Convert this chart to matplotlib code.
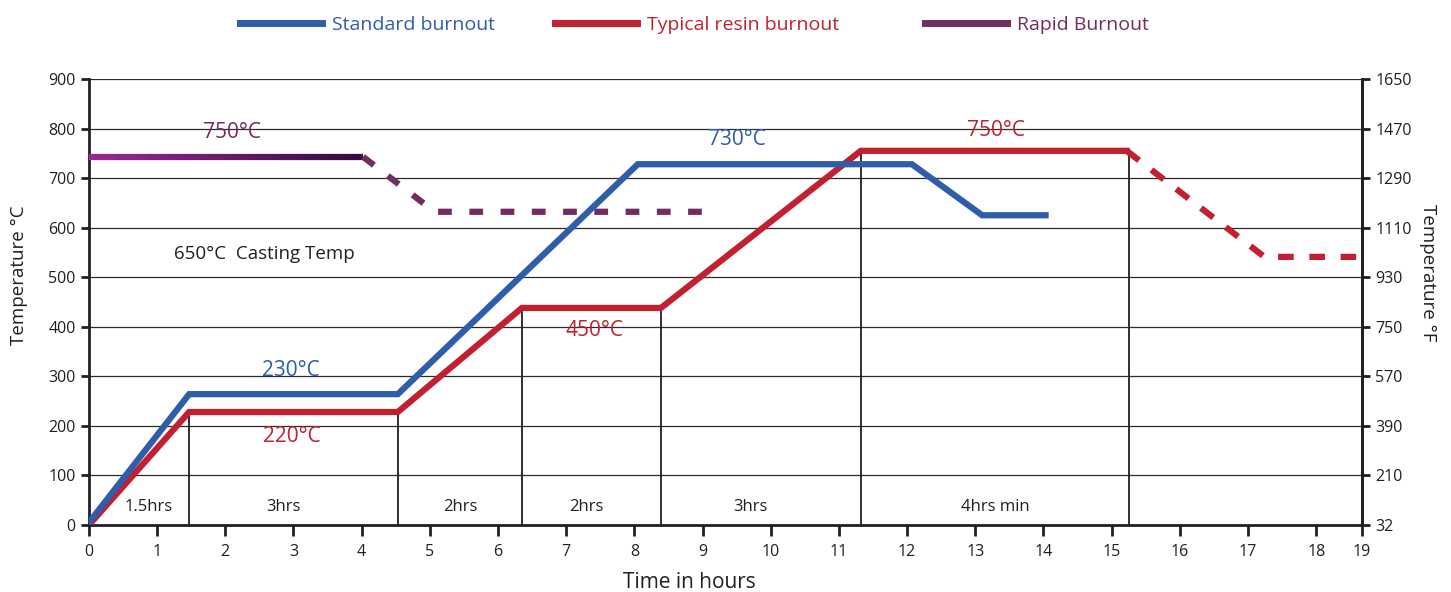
import matplotlib.pyplot as plt
import numpy as np
from matplotlib.collections import LineCollection
from matplotlib.lines import Line2D

plt.rcParams['font.family'] = ['Open Sans', 'DejaVu Sans']

# data (hours, degrees C)
std_x = [0, 1.47, 4.53, 8.05, 12.07, 13.1, 14.03]
std_y = [5, 264, 264, 728, 728, 625, 625]

resin_x = [0, 1.47, 4.53, 6.35, 8.39, 11.32, 15.22]
resin_y = [0, 228, 228, 438, 438, 755, 755]
resin_cool_x = [15.22, 17.24, 18.67]
resin_cool_y = [755, 541, 541]

rapid_x = [0, 4.02]
rapid_y = [743, 743]
rapid_cool_x = [4.02, 5.07, 9.05]
rapid_cool_y = [743, 632, 632]

step_x = [1.47, 4.53, 6.35, 8.39, 11.32, 15.26]
step_top = [228, 228, 438, 438, 755, 755]
step_labels = ["1.5hrs", "3hrs", "2hrs", "2hrs", "3hrs", "4hrs min"]
step_label_x = [0.87, 2.85, 5.44, 7.29, 9.7, 13.3]

y_ticks = [0, 100, 200, 300, 400, 500, 600, 700, 800, 900]
f_labels = ["32", "210", "390", "570", "750", "930", "1110", "1290", "1470", "1650"]
x_ticks = list(range(19)) + [18.67]
x_labels = [str(i) for i in range(20)]

blue = "#2F5DAA"
red = "#C21F30"
purple = "#722C5E"
dark = "#231F20"

fig = plt.figure(figsize=(14.51, 5.92), dpi=100)
ax = fig.add_axes([0.0613, 0.1132, 0.8773, 0.7534])
ax.set_xlim(0, 18.67)
ax.set_ylim(0, 900)

for yv in y_ticks[1:]:
    ax.axhline(yv, color="#2b2b2b", lw=0.9, zorder=1)

# segment dividers
for sx, st in zip(step_x, step_top):
    ax.plot([sx, sx], [0, st], color=dark, lw=1.3, zorder=2)
for lx, lab in zip(step_label_x, step_labels):
    ax.text(lx, 36, lab, ha="center", va="center", fontsize=12, color=dark)

# rapid burnout, solid part fades from magenta to dark purple
gx = np.linspace(rapid_x[0], rapid_x[1], 60)
gy = np.interp(gx, rapid_x, rapid_y)
pts = np.column_stack([gx, gy]).reshape(-1, 1, 2)
segs = np.concatenate([pts[:-1], pts[1:]], axis=1)
c0 = np.array([0.60, 0.16, 0.58])
c1 = np.array([0.22, 0.03, 0.27])
t = np.linspace(0, 1, len(segs))[:, None]
lc = LineCollection(segs, colors=c0 * (1 - t) + c1 * t, linewidths=4.5, zorder=3)
ax.add_collection(lc)
ax.plot(rapid_cool_x, rapid_cool_y, color=purple, lw=4.5, dashes=(2.2, 2.8), zorder=3)

ax.plot(resin_x, resin_y, color=red, lw=4.5, solid_joinstyle="miter", zorder=4)
ax.plot(resin_cool_x, resin_cool_y, color=red, lw=4.5, dashes=(2.5, 2.5), zorder=4)
ax.plot(std_x, std_y, color=blue, lw=4.5, solid_joinstyle="miter", zorder=5)

# annotations
ax.text(2.1, 791, "750°C", color=purple, fontsize=15, ha="center", va="center")
ax.text(1.25, 547, "650°C  Casting Temp", color=dark, fontsize=13.5, ha="left", va="center")
ax.text(9.5, 777, "730°C", color=blue, fontsize=15, ha="center", va="center")
ax.text(13.3, 797, "750°C", color=red, fontsize=15, ha="center", va="center")
ax.text(2.96, 311, "230°C", color=blue, fontsize=15, ha="center", va="center")
ax.text(2.98, 178, "220°C", color=red, fontsize=15, ha="center", va="center")
ax.text(7.42, 393, "450°C", color=red, fontsize=15, ha="center", va="center")

# axes styling
for side in ["left", "bottom", "right"]:
    ax.spines[side].set_linewidth(2)
    ax.spines[side].set_color(dark)
ax.spines["top"].set_visible(False)
ax.set_xticks(x_ticks)
ax.set_xticklabels(x_labels)
ax.set_yticks(y_ticks)
ax.set_yticklabels([str(v) for v in y_ticks])
ax.tick_params(axis="both", labelsize=11.5, length=6, width=2, color=dark, labelcolor=dark)
ax.tick_params(axis="x", length=8, pad=6)
ax.set_xlabel("Time in hours", fontsize=15, color=dark)
ax.xaxis.set_label_coords(0.472, -0.105)
ax.set_ylabel("Temperature °C", fontsize=13.5, color=dark)
ax.yaxis.set_label_coords(-0.048, 0.56)

ax2 = ax.twinx()
ax2.set_ylim(ax.get_ylim())
ax2.set_yticks(y_ticks)
ax2.set_yticklabels(f_labels)
ax2.tick_params(axis="y", labelsize=11.5, length=6, width=2, color=dark, labelcolor=dark)
for side in ["left", "bottom", "top"]:
    ax2.spines[side].set_visible(False)
ax2.spines["right"].set_linewidth(2)
ax2.spines["right"].set_color(dark)
ax2.set_ylabel("Temperature °F", fontsize=13.5, color=dark, rotation=270, va="bottom")
ax2.yaxis.set_label_coords(1.045, 0.565)

# legend entries spaced as in the reference
leg_names = ["Standard burnout", "Typical resin burnout", "Rapid Burnout"]
leg_colors = [blue, red, purple]
leg_x = [240 / 1451, 555 / 1451, 925 / 1451]
for name, col, lx in zip(leg_names, leg_colors, leg_x):
    fig.legend([Line2D([], [], color=col, lw=5)], [name], loc="center left",
               bbox_to_anchor=(lx, 0.958), frameon=False, borderpad=0, borderaxespad=0,
               handlelength=4.2, handletextpad=0.55, labelcolor=col, fontsize=14)

fig.savefig("out.png", dpi=100)
